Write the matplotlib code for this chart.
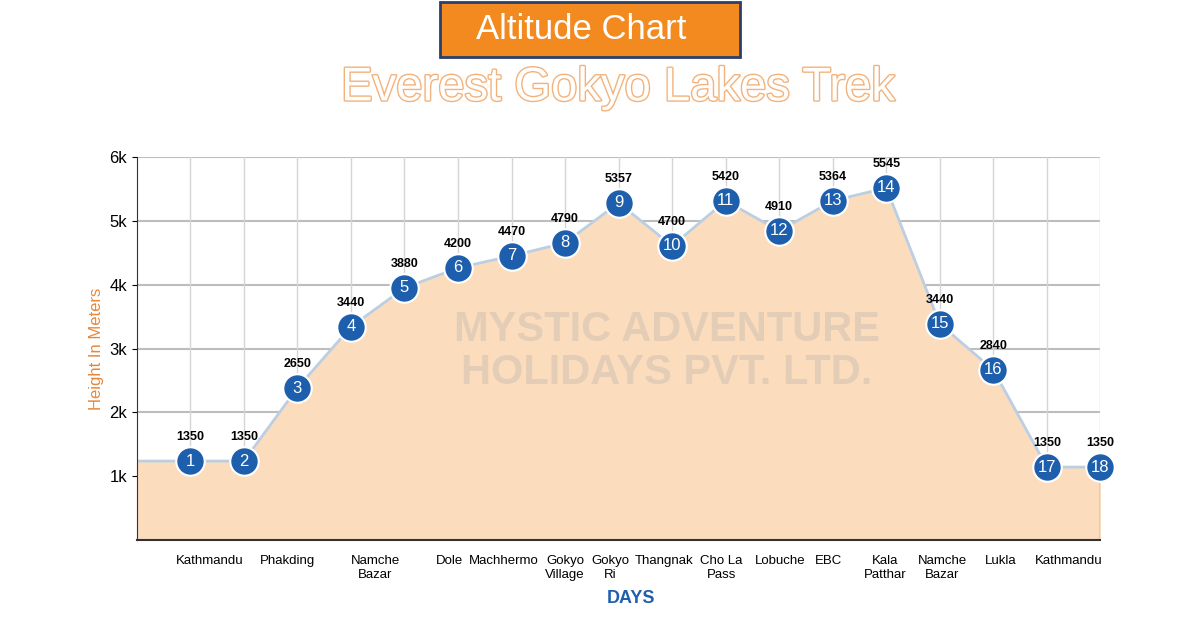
import matplotlib
matplotlib.use("Agg")
import matplotlib.pyplot as plt
import matplotlib.patheffects as pe
from matplotlib.patches import Rectangle

plt.rcParams['font.family'] = ['Liberation Sans', 'DejaVu Sans']

days = list(range(1, 19))
heights = [1238, 1238, 2382, 3339, 3950, 4263, 4451, 4655, 5282, 4608,
           5313, 4843, 5313, 5517, 3386, 2665, 1144, 1144]
labels = [1350, 1350, 2650, 3440, 3880, 4200, 4470, 4790, 5357, 4700,
          5420, 4910, 5364, 5545, 3440, 2840, 1350, 1350]
places = ["Kathmandu", "Phakding", "Namche\nBazar", "Dole", "Machhermo",
          "Gokyo\nVillage", "Gokyo\nRi", "Thangnak", "Cho La\nPass", "Lobuche",
          "EBC", "Kala\nPatthar", "Namche\nBazar", "Lukla", "Kathmandu"]
place_pos = [1.36, 2.82, 4.45, 5.84, 6.86, 8.0, 8.84, 9.85, 10.92, 12.02,
             12.92, 13.98, 15.05, 16.13, 17.4]

fig = plt.figure(figsize=(12, 6.18), dpi=100)
ax = fig.add_axes([0.114, 0.126, 0.803, 0.62])

xs = [0] + days + [18]
ys = [heights[0]] + heights + [0]
ax.fill_between(xs, ys, 0, color="#FBDDBE", zorder=1)
ax.plot([0] + days, [heights[0]] + heights, color="#BCCFE2", lw=2, zorder=2)
ax.plot([18, 18], [heights[-1], 0], color="#BCCFE2", lw=2, zorder=2)

for y in range(1000, 7000, 1000):
    ax.axhline(y, color="#BDBDBD", lw=1.5, zorder=0.5)
for d in days:
    ax.axvline(d, color="#D5D5D5", lw=1, zorder=0.5)

ax.text(9.9, 2950, "MYSTIC ADVENTURE\nHOLIDAYS PVT. LTD.", color="#A0A0A0", alpha=0.25,
        fontsize=30, fontweight="bold", ha="center", va="center", zorder=1.5, linespacing=1.1)

ax.scatter(days, heights, s=420, color="#1E5FAD", edgecolor="white", lw=1.5, zorder=4, clip_on=False)
for d, h, l in zip(days, heights, labels):
    ax.text(d, h, str(d), color="white", ha="center", va="center", fontsize=12, zorder=5)
    ax.text(d, h + 380, str(l), color="black", ha="center", va="center",
            fontsize=9, fontweight="bold", zorder=5)

ax.set_xlim(0, 18)
ax.set_ylim(0, 6000)
ax.set_yticks(range(1000, 7000, 1000))
ax.set_yticklabels([f"{i}k" for i in range(1, 7)], fontsize=12)
ax.set_xticks([])
for p, n in zip(place_pos, places):
    ax.text(p, -230, n, ha="center", va="top", fontsize=9.5, transform=ax.transData)
for s in ["top", "right"]:
    ax.spines[s].set_visible(False)
ax.spines["left"].set_color("#333333")
ax.spines["bottom"].set_color("#333333")
ax.spines["bottom"].set_linewidth(1.5)
ax.set_ylabel("Height In Meters", color="#E8873A", fontsize=12)
fig.text(0.526, 0.025, "DAYS", color="#1F5FAD", fontsize=13, fontweight="bold", ha="center")

fig.patches.append(Rectangle((0.367, 0.908), 0.25, 0.088, transform=fig.transFigure,
                             facecolor="#F28A1F", edgecolor="#2B3F6B", lw=2))
fig.text(0.484, 0.952, "Altitude Chart", color="white", fontsize=25, ha="center", va="center")
fig.text(0.515, 0.857, "Everest Gokyo Lakes Trek", color="white", fontsize=34, ha="center",
         va="center", path_effects=[pe.withStroke(linewidth=2, foreground="#F3B27A")])
fig.savefig("out.png", dpi=100)
